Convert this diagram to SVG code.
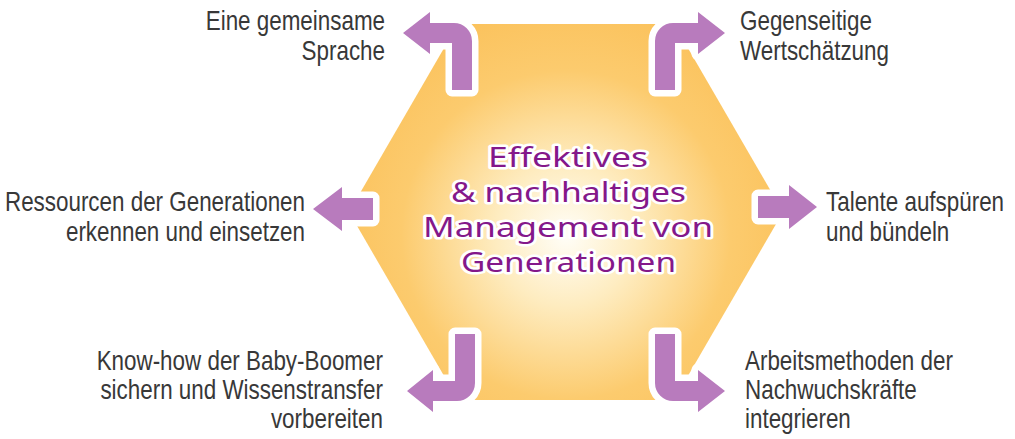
<svg xmlns="http://www.w3.org/2000/svg" width="1015" height="439" viewBox="0 0 1015 439">
  <defs>
    <radialGradient id="hexFill" gradientUnits="userSpaceOnUse" cx="566" cy="235" r="235">
      <stop offset="0" stop-color="#fffef8"/>
      <stop offset="0.3" stop-color="#feecc0"/>
      <stop offset="0.7" stop-color="#fccb6e"/>
      <stop offset="1" stop-color="#fbc25c"/>
    </radialGradient>
  </defs>
  <style>
    .lbl { font-family: "Liberation Sans", Arial, sans-serif; font-size: 27px; fill: #383838; }
    .end { text-anchor: end; }
    .ctr { font-family: "Noto Sans", "DejaVu Sans", sans-serif; font-size: 28px; fill: #84188a; stroke: #ffffff; stroke-width: 5; stroke-linejoin: round; paint-order: stroke; }
    .arrow { fill: #b87bbd; stroke: #ffffff; stroke-width: 13; stroke-linejoin: round; paint-order: stroke; }
  </style>
  <rect width="1015" height="439" fill="#ffffff"/>

  <g id="center">
    <polygon points="458,24 674,24 783,212 674,400 458,400 349,212" fill="url(#hexFill)"/>
    <text class="ctr" x="488" y="167" textLength="160" lengthAdjust="spacingAndGlyphs">Effektives</text>
    <text class="ctr" x="451" y="202" textLength="235" lengthAdjust="spacingAndGlyphs">&amp; nachhaltiges</text>
    <text class="ctr" x="423" y="237" textLength="290" lengthAdjust="spacingAndGlyphs">Management von</text>
    <text class="ctr" x="461" y="272" textLength="215" lengthAdjust="spacingAndGlyphs">Generationen</text>
  </g>

  <g id="connectors">
    <path class="arrow" d="M452,90 L452,43 L430,43 L430,54 L403,33 L430,12 L430,23 L454,23 A18,18 0 0 1 472,41 L472,90 Z"/>
    <path class="arrow" d="M675,90 L675,43 L698,43 L698,54 L725,33 L698,12 L698,23 L673,23 A18,18 0 0 0 655,41 L655,90 Z"/>
    <path class="arrow" d="M373,198 L342,198 L342,187 L313,209 L342,231 L342,220 L373,220 Z"/>
    <path class="arrow" d="M758,196 L789,196 L789,185 L817,207 L789,229 L789,218 L758,218 Z"/>
    <path class="arrow" d="M455,334 L475,334 L475,383 A18,18 0 0 1 457,401 L433,401 L433,412 L407,391 L433,370 L433,381 L455,381 Z"/>
    <path class="arrow" d="M675,334 L655,334 L655,383 A18,18 0 0 0 673,401 L698,401 L698,412 L725,391 L698,370 L698,381 L675,381 Z"/>
  </g>

  <g transform="scale(0.83,1)">
    <g id="label-sprache">
      <text class="lbl end" x="463.9" y="30">Eine gemeinsame</text>
      <text class="lbl end" x="463.9" y="60">Sprache</text>
    </g>
    <g id="label-wertschaetzung">
      <text class="lbl" x="891.6" y="30">Gegenseitige</text>
      <text class="lbl" x="891.6" y="60">Wertschätzung</text>
    </g>
    <g id="label-ressourcen">
      <text class="lbl end" x="367.5" y="211">Ressourcen der Generationen</text>
      <text class="lbl end" x="367.5" y="241">erkennen und einsetzen</text>
    </g>
    <g id="label-talente">
      <text class="lbl" x="995.2" y="211">Talente aufspüren</text>
      <text class="lbl" x="995.2" y="241">und bündeln</text>
    </g>
    <g id="label-knowhow">
      <text class="lbl end" x="461.4" y="370">Know-how der Baby-Boomer</text>
      <text class="lbl end" x="461.4" y="399">sichern und Wissenstransfer</text>
      <text class="lbl end" x="461.4" y="428">vorbereiten</text>
    </g>
    <g id="label-arbeitsmethoden">
      <text class="lbl" x="897.6" y="370">Arbeitsmethoden der</text>
      <text class="lbl" x="897.6" y="399">Nachwuchskräfte</text>
      <text class="lbl" x="897.6" y="428">integrieren</text>
    </g>
  </g>
</svg>
